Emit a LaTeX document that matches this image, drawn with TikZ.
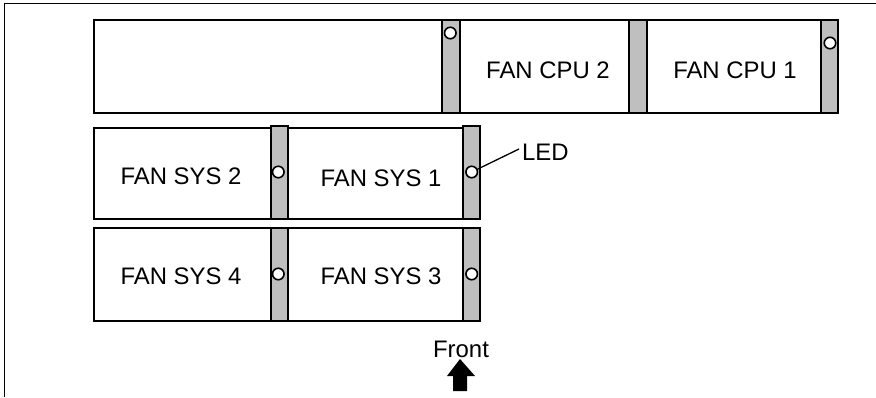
\documentclass[tikz,border=0pt]{standalone}
\usepackage{fontspec}
\setmainfont{Liberation Sans}
\newcommand{\fsz}{\fontsize{23.9bp}{26bp}\selectfont}
\tikzset{
  x=1bp,y=-1bp,
  frameline/.style={draw=black,line width=1bp},
  bay/.style={draw=black,line width=1.7bp,fill=white},
  bar/.style={draw=black,line width=1.7bp,fill=black!25},
  led/.style={circle,draw=black,line width=1.6bp,fill=white,minimum size=11.5bp,inner sep=0pt},
  lab/.style={font=\fsz,inner sep=0pt,text=black,anchor=base},
}
\begin{document}
\begin{tikzpicture}
\useasboundingbox (0,0) rectangle (876,397);
\draw[frameline] (4.5,397) -- (4.5,3.5) -- (876,3.5);
% top row
\draw[bay] (94,20) rectangle (838,113);
\draw[bar] (442,20) rectangle (460,113);
\draw[bar] (629,20) rectangle (647,113);
\draw[bar] (821,20) rectangle (838,113);
\node[led] (l1) at (450.3,33) {};
\node[led] (l2) at (830,43) {};
\node[lab] (c2) at (548,78) {FAN CPU 2};
\node[lab] (c1) at (735,78) {FAN CPU 1};
% middle row
\draw[bay] (94,128) rectangle (480,219);
\draw[bar] (271,126) rectangle (288,219);
\draw[bar] (463,126) rectangle (480,219);
\node[led] (l3) at (278.3,172) {};
\node[led] (l4) at (471.7,172) {};
\node[lab] (s2) at (181,184) {FAN SYS 2};
\node[lab] (s1) at (381,186) {FAN SYS 1};
% bottom row
\draw[bay] (94,228) rectangle (480,321);
\draw[bar] (271,228) rectangle (288,321);
\draw[bar] (463,228) rectangle (480,321);
\node[led] (l5) at (278.3,274) {};
\node[led] (l6) at (471.7,274) {};
\node[lab] (s4) at (181,284) {FAN SYS 4};
\node[lab] (s3) at (381,284) {FAN SYS 3};
% LED callout
\node[lab,anchor=base west] (ledlab) at (522,160) {LED};
\coordinate (ledend) at (519,149);
\draw[line width=1.3bp] (ledend) -- (l4);
% front
\node[lab] (front) at (461,357.5) {Front};
\fill[black] (460,359) -- (475,376) -- (467,376) -- (467,391) -- (453,391) -- (453,376) -- (447,376) -- cycle;
\end{tikzpicture}
\end{document}
